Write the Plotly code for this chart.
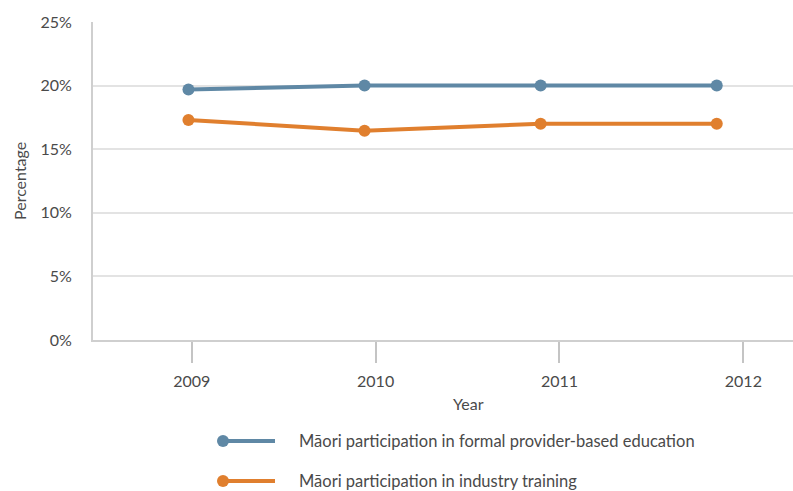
import plotly.graph_objects as go

# Data
years = [2009, 2010, 2011, 2012]
year_labels = ["2009", "2010", "2011", "2012"]
formal_provider = [19.7, 20.0, 20.0, 20.0]
industry_training = [17.3, 16.45, 17.0, 17.0]
series_names = [
    "Māori participation in formal provider-based education",
    "Māori participation in industry training",
]
y_ticks = [0, 5, 10, 15, 20, 25]
y_tick_labels = ["0%", "5%", "10%", "15%", "20%", "25%"]

BLUE = "#5f88a5"
ORANGE = "#e07f2e"
TEXT = "#4a4a4a"
FONT = "Lato"

W, H = 793, 491
ML, MR, MT, MB = 93, 0, 22, 151
PW, PH = W - ML - MR, H - MT - MB


def px_x(px):
    return (px - ML) / PW


def px_y(py):
    return (H - MB - py) / PH


fig = go.Figure()

# Placeholder trace so the year axis (ticks + labels) gets rendered
fig.add_trace(go.Scatter(
    x=years, y=[None] * len(years), xaxis="x", yaxis="y",
    mode="markers", showlegend=False, hoverinfo="skip",
))

for vals, color, name in [(formal_provider, BLUE, series_names[0]),
                          (industry_training, ORANGE, series_names[1])]:
    fig.add_trace(go.Scatter(
        x=years, y=vals, name=name, xaxis="x2", yaxis="y",
        mode="lines+markers",
        line=dict(color=color, width=4),
        marker=dict(color=color, size=12),
        showlegend=False,
        hoverinfo="skip",
    ))

# Legend drawn below the plot
legend_rows = [(441, BLUE, series_names[0]), (481, ORANGE, series_names[1])]
shapes = []
annotations = []
for py, color, name in legend_rows:
    shapes.append(dict(type="line", xref="paper", yref="paper",
                       x0=px_x(219), x1=px_x(275), y0=px_y(py), y1=px_y(py),
                       line=dict(color=color, width=4)))
    shapes.append(dict(type="circle", xref="paper", yref="paper",
                       x0=px_x(217), x1=px_x(229), y0=px_y(py + 6), y1=px_y(py - 6),
                       fillcolor=color, line=dict(color=color, width=0)))
    annotations.append(dict(text=name, xref="paper", yref="paper",
                            x=px_x(297), y=px_y(py), xanchor="left", yanchor="middle",
                            showarrow=False, font=dict(family=FONT, size=16.5, color=TEXT)))

annotations.append(dict(text="Year", xref="paper", yref="paper",
                        x=px_x(468), y=px_y(403), xanchor="center", yanchor="middle",
                        showarrow=False, font=dict(family=FONT, size=16, color=TEXT)))
annotations.append(dict(text="Percentage", xref="paper", yref="paper",
                        x=px_x(19), y=px_y(181), xanchor="center", yanchor="middle",
                        textangle=-90, showarrow=False,
                        font=dict(family=FONT, size=16, color=TEXT)))

fig.update_layout(
    width=W, height=H,
    margin=dict(l=ML, r=MR, t=MT, b=MB, pad=0),
    paper_bgcolor="white", plot_bgcolor="white",
    font=dict(family=FONT, size=14, color=TEXT),
    xaxis=dict(
        range=[2008.463, 2012.27],
        tickmode="array", tickvals=years, ticktext=year_labels,
        ticks="outside", ticklen=21, tickwidth=2, tickcolor="#c4c4c4",
        ticklabelstandoff=5,
        showgrid=False, zeroline=False,
        showline=True, linecolor="#cfcfcf", linewidth=2,
        tickfont=dict(family=FONT, size=16, color=TEXT),
        fixedrange=True,
    ),
    xaxis2=dict(
        range=[2008.458, 2012.433], overlaying="x", visible=False,
        showgrid=False, zeroline=False, fixedrange=True,
    ),
    yaxis=dict(
        range=[0, 25],
        tickmode="array", tickvals=y_ticks, ticktext=y_tick_labels,
        showgrid=True, gridcolor="#e3e3e3", gridwidth=1.5,
        zeroline=False, ticks="", ticklabelstandoff=16,
        showline=True, linecolor="#cfcfcf", linewidth=2,
        tickfont=dict(family=FONT, size=16, color=TEXT),
        fixedrange=True,
    ),
    shapes=shapes,
    annotations=annotations,
)

fig.write_html("out.html")
